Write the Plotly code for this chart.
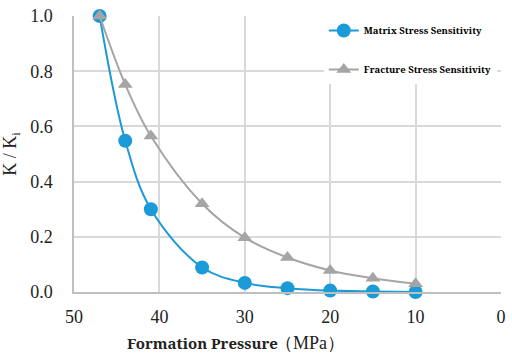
import plotly.graph_objects as go

pressure = [47, 44, 41, 35, 30, 25, 20, 15, 10]
matrix = [1.0, 0.548, 0.30, 0.089, 0.033, 0.014, 0.005, 0.002, 0.0]
fracture = [1.0, 0.752, 0.565, 0.32, 0.197, 0.125, 0.078, 0.05, 0.03]
x_ticks = [50, 40, 30, 20, 10, 0]
y_ticks = [0.0, 0.2, 0.4, 0.6, 0.8, 1.0]

serif = "Liberation Serif"
bold_serif = "Noto Serif"
blue = "#1b9ad8"
gray = "#a5a5a5"

fig = go.Figure()
fig.add_trace(go.Scatter(
    x=pressure, y=matrix, mode="lines+markers", name="<b>Matrix Stress Sensitivity</b>",
    line=dict(color=blue, width=2, shape="spline", smoothing=1.0),
    marker=dict(symbol="circle", size=14, color=blue),
    legendgroup="a", cliponaxis=False))
fig.add_trace(go.Scatter(
    x=pressure, y=fracture, mode="lines+markers", name="<b>Fracture Stress Sensitivity</b>",
    line=dict(color=gray, width=2, shape="spline", smoothing=1.0),
    marker=dict(symbol="triangle-up", size=13, color=gray),
    legendgroup="b", cliponaxis=False))

fig.update_layout(
    width=512, height=354,
    margin=dict(l=66, r=6, t=10, b=62),
    paper_bgcolor="white", plot_bgcolor="white",
    font=dict(family=serif, color="#222222", size=16),
    xaxis=dict(range=[50, 0], tickvals=x_ticks, showgrid=True, gridcolor="#d9d9d9", gridwidth=1.5,
               showline=True, linecolor="#bfbfbf", linewidth=1.5, zeroline=False,
               ticks="", ticklabelstandoff=8, tickfont=dict(size=18, family=serif)),
    yaxis=dict(range=[0, 1.0], tickvals=y_ticks, tickformat=".1f", showgrid=True, gridcolor="#d9d9d9",
               gridwidth=1.5, showline=True, linecolor="#bfbfbf", linewidth=1.5, zeroline=False,
               ticks="", ticklabelstandoff=16, tickfont=dict(size=18, family=serif),
               title=dict(text="K / K<sub>i</sub>", font=dict(size=18, family=serif), standoff=12)),
    legend=dict(x=0.585, y=1.0, xanchor="left", yanchor="top", bgcolor="white",
                font=dict(size=9.5, family=bold_serif, color="black"), tracegroupgap=20,
                itemwidth=30),
    showlegend=True,
)
split_x = (278 - 66) / 440
fig.add_annotation(
    text="<b>Formation Pressure</b>", xref="paper", yref="paper",
    x=split_x, y=-0.185, xanchor="right", yanchor="middle", showarrow=False,
    font=dict(size=15, family=bold_serif, color="#222222"))
fig.add_annotation(
    text="（MPa）", xref="paper", yref="paper",
    x=split_x, y=-0.185, xanchor="left", yanchor="middle", showarrow=False, xshift=-7,
    font=dict(size=18, family=serif, color="#222222"))

fig.write_html("out.html", config={"displayModeBar": False},
               post_script="document.body.style.margin='0';")
